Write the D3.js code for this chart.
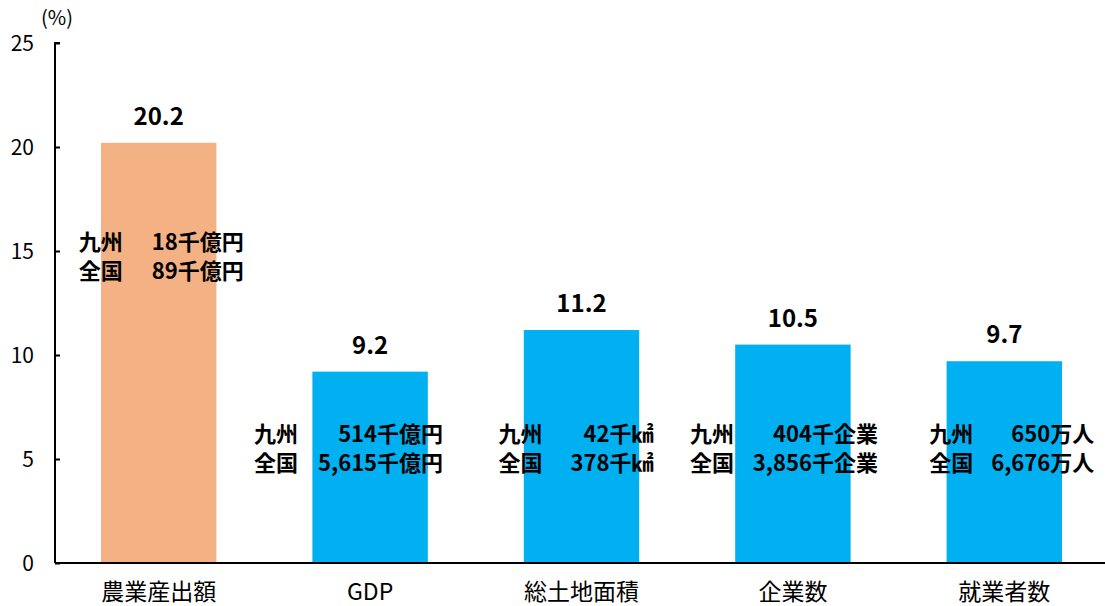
<!DOCTYPE html>
<html lang="ja">
<head>
<meta charset="utf-8">
<script src="https://cdn.jsdelivr.net/npm/d3@7"></script>
<style>
  html, body { margin: 0; padding: 0; background: #fff; }
  svg { display: block; font-family: "Noto Sans CJK JP", "Noto Sans", sans-serif; }
</style>
</head>
<body>
<svg id="chart" width="1105" height="606"></svg>
<script>
// 九州のシェア（全国比, %）
const categories = ["農業産出額", "GDP", "総土地面積", "企業数", "就業者数"];
const shares = [20.2, 9.2, 11.2, 10.5, 9.7];
const kyushuValues = ["18千億円", "514千億円", "42千㎢", "404千企業", "650万人"];
const nationalValues = ["89千億円", "5,615千億円", "378千㎢", "3,856千企業", "6,676万人"];
const yTicks = [0, 5, 10, 15, 20, 25];
const barColors = ["#F4B183", "#00B0F0", "#00B0F0", "#00B0F0", "#00B0F0"];

// 注記ブロックの配置（棒の中心からの左端・右端のずれ）
const noteLeft = [-80, -116, -83, -103, -75];
const noteRight = [85, 73, 72, 85, 90];

const svg = d3.select("#chart");
const x0 = 55, yBottom = 563, yTop = 43;

const x = d3.scaleBand()
  .domain(categories)
  .range([53, 1110])
  .paddingInner(0.454)
  .paddingOuter(0.227);

const y = d3.scaleLinear().domain([0, 25]).range([yBottom, yTop]);

// 棒
svg.append("g").selectAll("rect")
  .data(categories)
  .join("rect")
  .attr("x", d => x(d))
  .attr("width", x.bandwidth())
  .attr("y", (d, i) => y(shares[i]))
  .attr("height", (d, i) => y(0) - y(shares[i]))
  .attr("fill", (d, i) => barColors[i]);

// Y軸
const yAxis = d3.axisRight(y).tickValues(yTicks).tickSize(5).tickFormat("");
const gy = svg.append("g").attr("transform", `translate(${x0},0)`).call(yAxis);
gy.select(".domain").attr("stroke", "#000").attr("stroke-width", 2).attr("d", `M5,${yTop}H0V${yBottom}`);
gy.selectAll(".tick line").attr("stroke", "#000").attr("stroke-width", 2);

svg.append("g").selectAll("text")
  .data(yTicks)
  .join("text")
  .attr("x", 34)
  .attr("y", d => y(d))
  .attr("dy", "0.36em")
  .attr("text-anchor", "end")
  .attr("font-size", 21)
  .attr("fill", "#000")
  .text(d => d);

svg.append("text")
  .attr("x", 41).attr("y", 25)
  .attr("font-size", 20)
  .text("(%)");

// X軸
svg.append("line")
  .attr("x1", x0).attr("x2", 1105)
  .attr("y1", yBottom).attr("y2", yBottom)
  .attr("stroke", "#000").attr("stroke-width", 2);

svg.append("g").selectAll("text")
  .data(categories)
  .join("text")
  .attr("x", d => x(d) + x.bandwidth() / 2)
  .attr("y", 600)
  .attr("text-anchor", "middle")
  .attr("font-size", 23)
  .attr("fill", "#000")
  .text(d => d);

// 値ラベル
svg.append("g").selectAll("text")
  .data(categories)
  .join("text")
  .attr("x", d => x(d) + x.bandwidth() / 2)
  .attr("y", (d, i) => y(shares[i]) - 18)
  .attr("text-anchor", "middle")
  .attr("font-size", 24)
  .attr("font-weight", "bold")
  .attr("fill", "#000")
  .text((d, i) => shares[i].toFixed(1));

// 実数の注記（九州／全国）
const notes = svg.append("g").attr("font-size", 22).attr("font-weight", "bold").attr("fill", "#000");
categories.forEach((c, i) => {
  const cx = x(c) + x.bandwidth() / 2;
  const top = i === 0 ? 250 : 442;
  [["九州", kyushuValues[i]], ["全国", nationalValues[i]]].forEach((row, r) => {
    const ty = top + r * 29;
    notes.append("text").attr("x", cx + noteLeft[i]).attr("y", ty).text(row[0]);
    notes.append("text").attr("x", cx + noteRight[i]).attr("y", ty)
      .attr("text-anchor", "end").text(row[1]);
  });
});
</script>
</body>
</html>
